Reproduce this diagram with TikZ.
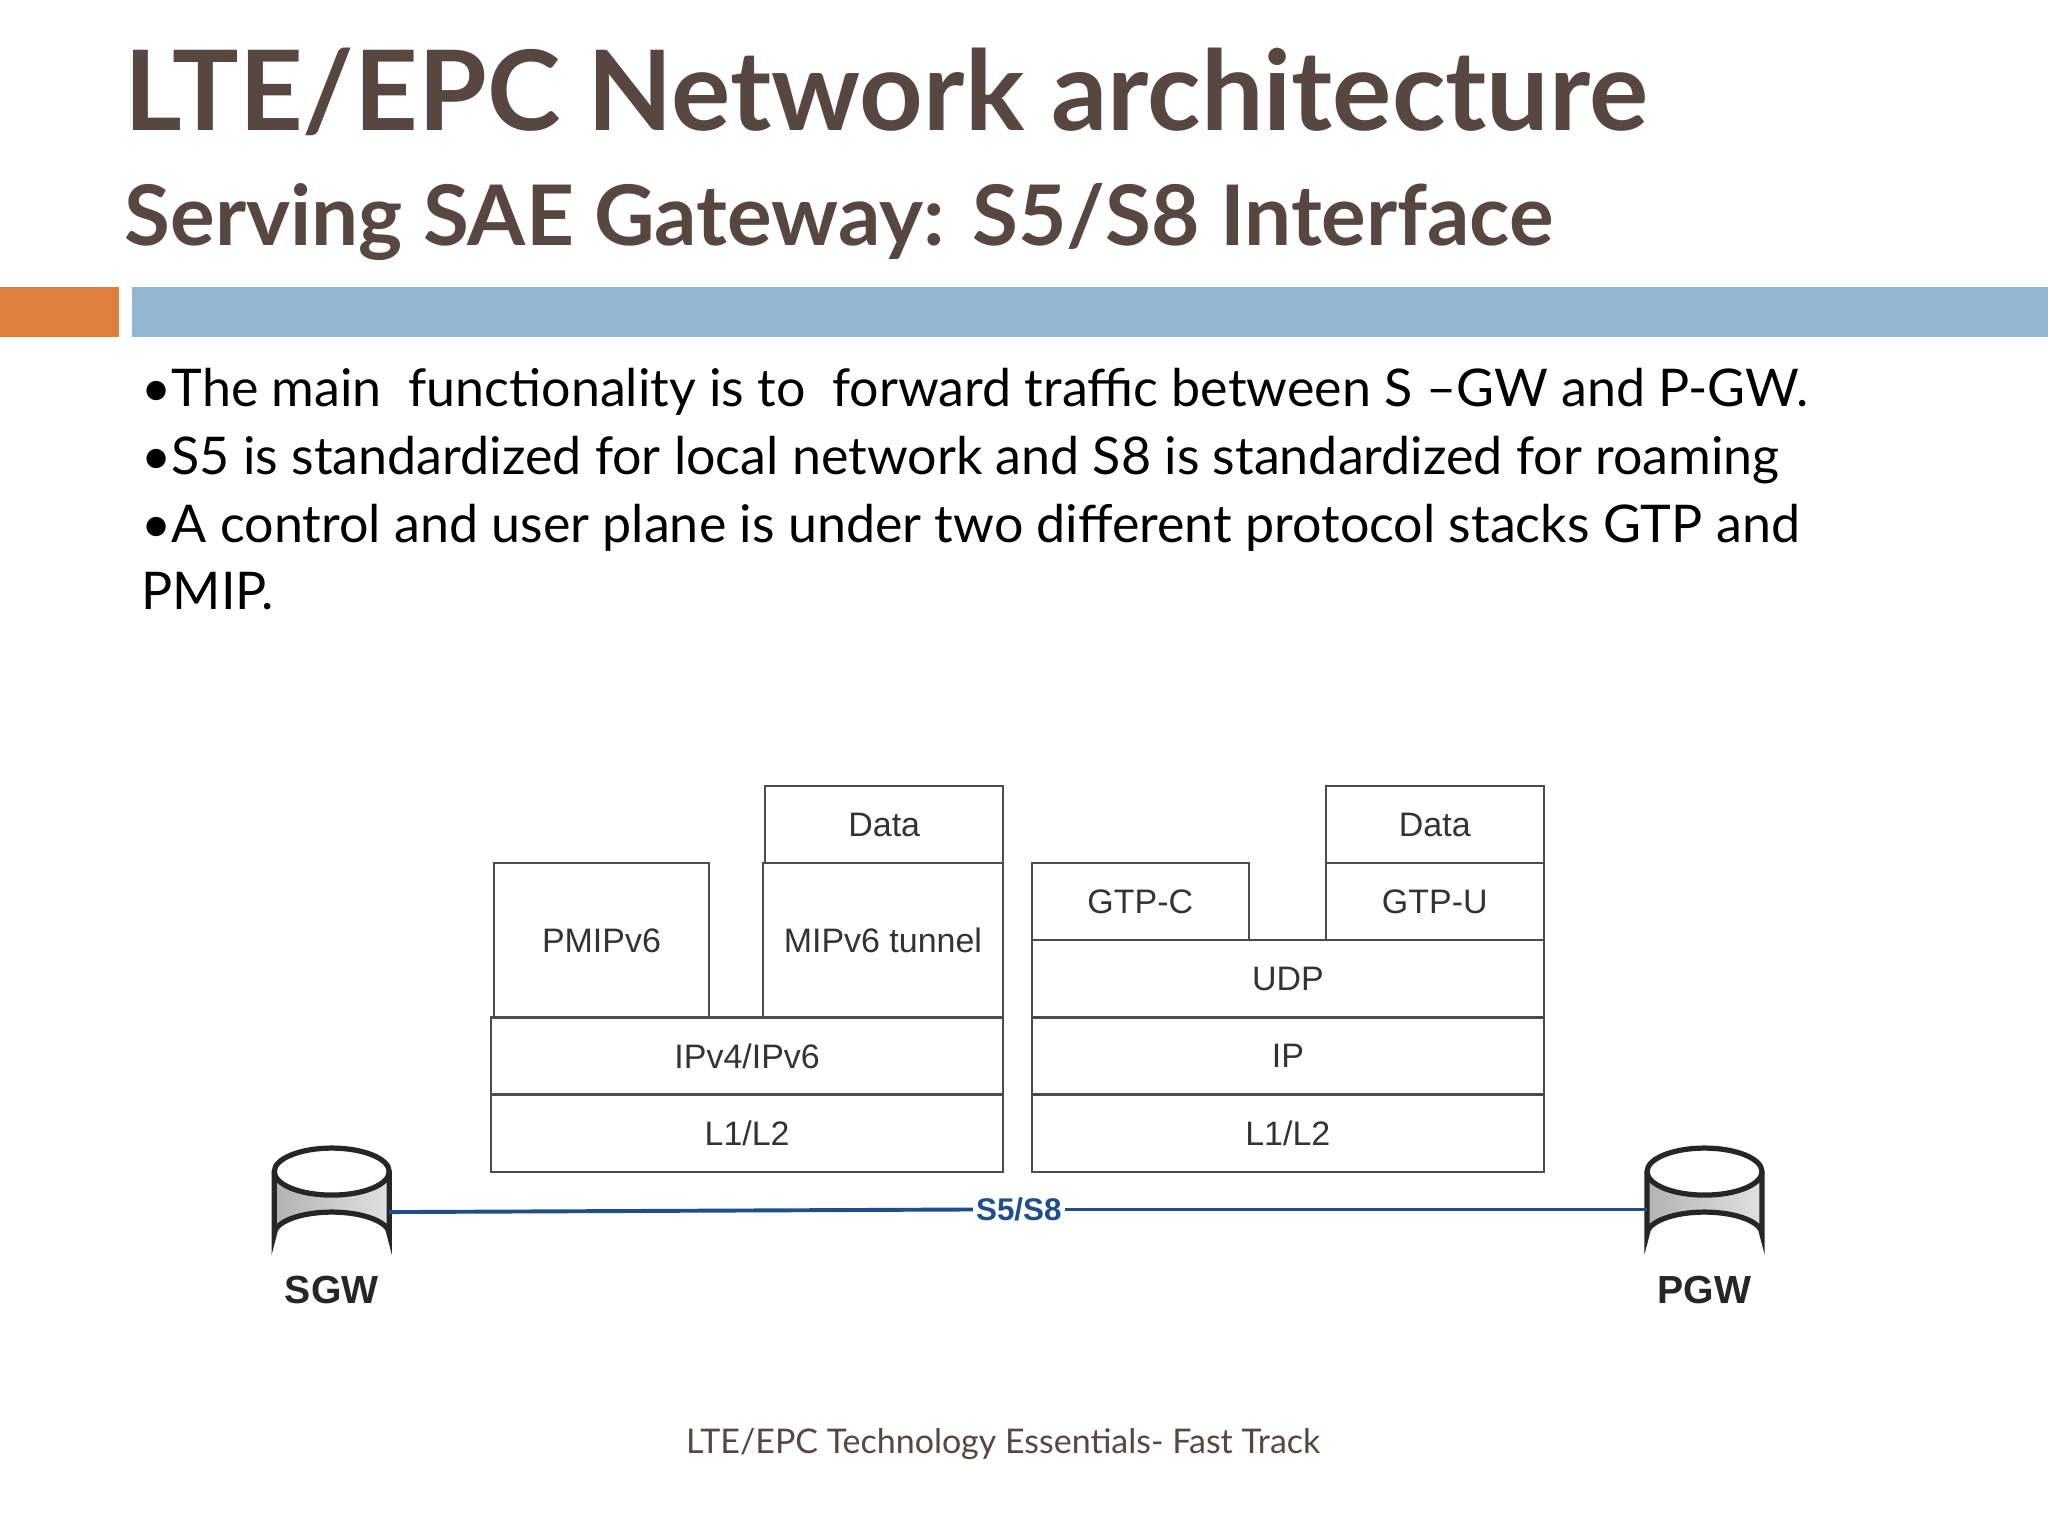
\documentclass[tikz,border=0pt]{standalone}
\usepackage{fontspec}
\setmainfont{Lato}
\newfontfamily\arialf{Liberation Sans}
\definecolor{brown}{HTML}{574740}
\definecolor{orangebar}{HTML}{DF7F3E}
\definecolor{bluebar}{HTML}{94B6D2}
\definecolor{linkblue}{HTML}{1F4E8C}
\begin{document}
\begin{tikzpicture}[x=0.5pt,y=-0.5pt,
  layer/.style={draw=black!70,line width=0.8pt,font=\arialf\fontsize{13}{15}\selectfont,text=black!80},
  bullet/.style={anchor=base west,font=\fontsize{19.9}{23}\selectfont,inner sep=0}]
\useasboundingbox (0,0) rectangle (1568,1176);
\fill[white] (0,0) rectangle (1568,1176);
\node[anchor=base west,inner sep=0,text=brown,font=\bfseries\fontsize{42.5}{50}\selectfont] (title) at (95,100) {LTE/EPC Network architecture};
\node[anchor=base west,inner sep=0,text=brown,font=\bfseries\fontsize{32}{36}\selectfont] (sub) at (95,188) {Serving SAE Gateway: S5/S8 Interface};
\fill[orangebar] (0,220) rectangle (91,258);
\fill[bluebar] (101,220) rectangle (1568,258);
\node[bullet] (b1) at (108,311) {•The main\ \ functionality is to\ \ forward traffic between S –GW and P-GW.};
\node[bullet] (b2) at (108,363) {•S5 is standardized for local network and S8 is standardized for roaming};
\node[bullet] (b3) at (108,415) {•A control and user plane is under two different protocol stacks GTP and};
\node[bullet] (b4) at (108,467) {PMIP.};
% left stack
\draw[layer] (378,661) rectangle (543,779) node[midway] (pm) {PMIPv6};
\draw[layer] (586,602) rectangle (768,661) node[midway] (d1) {Data};
\draw[layer] (584,661) rectangle (768,779) node[midway] (mip) {MIPv6 tunnel};
\draw[layer] (376,779) rectangle (768,838) node[midway] (ip1) {IPv4/IPv6};
\draw[layer] (376,838) rectangle (768,897) node[midway] (l1) {L1/L2};
% right stack
\draw[layer] (790,661) rectangle (956,720) node[midway] (gc) {GTP-C};
\draw[layer] (1015,602) rectangle (1182,661) node[midway] (d2) {Data};
\draw[layer] (1015,661) rectangle (1182,720) node[midway] (gu) {GTP-U};
\draw[layer] (790,720) rectangle (1182,779) node[midway] (udp) {UDP};
\draw[layer] (790,779) rectangle (1182,838) node[midway] (ip2) {IP};
\draw[layer] (790,838) rectangle (1182,897) node[midway] (l2) {L1/L2};
% cylinders
\foreach \cx/\nm in {254/sgw,1305/pgw}{
  \fill[left color=black!30,right color=black!12] (\cx-44,897) -- (\cx-44,945) arc[start angle=180,end angle=360,x radius=44,y radius=17] -- (\cx+44,897) -- cycle;
  \fill[white] (\cx,897) ellipse[x radius=44,y radius=18];
  \draw[black!85,line width=2pt] (\cx-44,897) -- (\cx-44,945) arc[start angle=180,end angle=360,x radius=44,y radius=17] -- (\cx+44,897);
  \draw[black!85,line width=2pt] (\cx,897) ellipse[x radius=44,y radius=18];
  \coordinate (\nm) at (\cx,928);
}
\coordinate (sgwr) at (298,928);
\coordinate (pgwl) at (1261,926);
\node[inner sep=1pt,text=linkblue,font=\arialf\bfseries\fontsize{12}{14}\selectfont] (s5) at (780,926) {S5/S8};
\draw[linkblue,line width=1.5pt] (sgwr) -- (s5.west);
\draw[linkblue,line width=1.5pt] (s5.east) -- (pgwl);
\node[font=\arialf\bfseries\fontsize{15}{18}\selectfont,text=black!85] (sl) at (254,988) {SGW};
\node[font=\arialf\bfseries\fontsize{15}{18}\selectfont,text=black!85] (pl) at (1305,988) {PGW};
\node[anchor=base,inner sep=0,text=brown,font=\fontsize{13}{16}\selectfont] (foot) at (768,1113) {LTE/EPC Technology Essentials- Fast Track};
\end{tikzpicture}
\end{document}
